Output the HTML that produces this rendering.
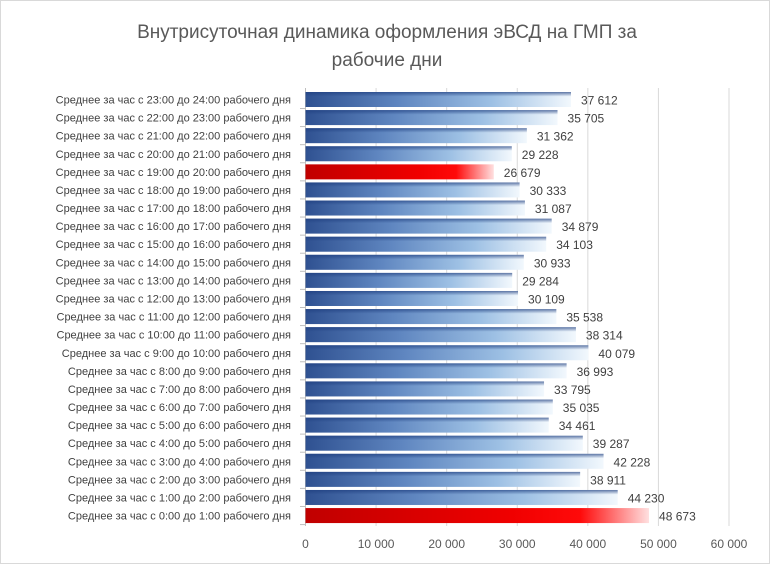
<!DOCTYPE html>
<html><head><meta charset="utf-8"><style>
body{margin:0;background:#fff;}
svg{display:block;font-family:"Liberation Sans",sans-serif;}
</style></head><body>
<svg width="774" height="568">
<defs>
<linearGradient id="gb" x1="0" x2="1" y1="0" y2="0">
<stop offset="0" stop-color="#2f5191"/><stop offset="0.35" stop-color="#5f86c0"/><stop offset="0.7" stop-color="#9dc0e4"/><stop offset="1" stop-color="#f2f8fd"/></linearGradient>
<linearGradient id="gr" x1="0" x2="1" y1="0" y2="0">
<stop offset="0" stop-color="#c00000"/><stop offset="0.6" stop-color="#f00000"/><stop offset="0.8" stop-color="#ff0a0a"/><stop offset="1" stop-color="#ffe0e0"/></linearGradient>
<linearGradient id="gv" x1="0" x2="0" y1="0" y2="1">
<stop offset="0" stop-color="#1f3f80" stop-opacity="0.7"/><stop offset="0.3" stop-color="#1f3f80" stop-opacity="0"/><stop offset="1" stop-color="#1f3f80" stop-opacity="0"/></linearGradient>
</defs>
<rect x="0.5" y="0.5" width="769" height="563" fill="#fff" stroke="#d9d9d9"/>
<text x="387" y="38" text-anchor="middle" font-size="19" fill="#595959">Внутрисуточная динамика оформления эВСД на ГМП за</text>
<text x="387" y="66" text-anchor="middle" font-size="19" fill="#595959">рабочие дни</text>
<g id="grid"></g><g id="bars"></g><g id="ticks"></g>
</svg>
<script>
const categories=[];
for(let h=0;h<24;h++)categories.push("Среднее за час с "+h+":00 до "+(h+1)+":00 рабочего дня");
const values=[48673,44230,38911,42228,39287,34461,35035,33795,36993,40079,38314,35538,30109,29284,30933,34103,34879,31087,30333,26679,29228,31362,35705,37612];
const highlighted=[0,19];
const xTicks=[0,10000,20000,30000,40000,50000,60000];
const ns="http://www.w3.org/2000/svg";
const x0=305.5,x1=729,xMax=60000;
const xs=v=>x0+(x1-x0)*v/xMax;
const yTop=99.5,pitch=18.09;
const yc=i=>yTop+(23-i)*pitch;
const fmt=v=>String(v).replace(/\B(?=(\d{3})+(?!\d))/g," ");
function mk(t,a,p){const e=document.createElementNS(ns,t);for(const k in a)e.setAttribute(k,a[k]);p.appendChild(e);return e;}
const grid=document.getElementById("grid"),bars=document.getElementById("bars"),ticks=document.getElementById("ticks");
xTicks.forEach(t=>{
 const l=mk("line",{x1:xs(t),x2:xs(t),y1:88,y2:526,stroke:t===0?"#bfbfbf":"#d9d9d9","stroke-width":1},grid);
 
 
 const tx=mk("text",{x:xs(t),y:548,"text-anchor":"middle","font-size":"12",fill:"#595959"},ticks);
 tx.textContent=fmt(t);
 
 
});
values.forEach((v,i)=>{
 const y=yc(i);
 const red=highlighted.includes(i);
 const tm=mk("line",{x1:300,x2:305,y1:y+9,y2:y+9,stroke:"#bfbfbf"},grid);
 
 
 const r=mk("rect",{x:x0,y:y-7.5,width:xs(v)-x0,height:15,fill:red?"url(#gr)":"url(#gb)"},bars);
 
 
 if(!red){const o=mk("rect",{x:x0,y:y-7.5,width:xs(v)-x0,height:15,fill:"url(#gv)"},bars);
 
 }
 const lb=mk("text",{x:xs(v)+10,y:y+5,"font-size":"12",fill:"#404040"},bars);
 lb.textContent=fmt(v);
 
 
 const c=mk("text",{x:291,y:y+4,"text-anchor":"end","font-size":"11",fill:"#404040"},ticks);
 c.textContent=categories[i];
 
 
});
</script>
</body></html>
